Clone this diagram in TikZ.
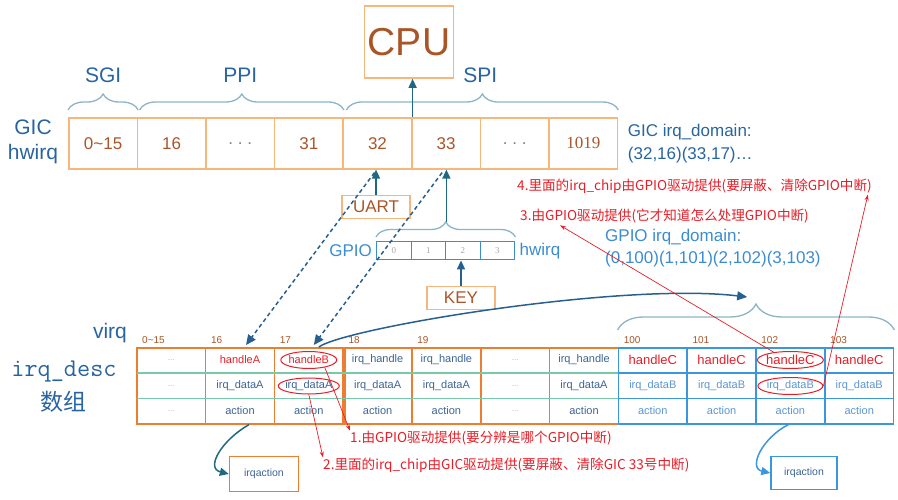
\documentclass[tikz,border=0pt]{standalone}
\usepackage{fontspec}
\setmainfont{Liberation Sans}
\newfontfamily\cjk{Noto Sans CJK SC}
\newfontfamily\numserif{Liberation Serif}
\usepackage{tikz}
\usetikzlibrary{calc}
\usetikzlibrary{positioning}
\usetikzlibrary{shapes.geometric}
\usetikzlibrary{decorations.pathreplacing}
\usetikzlibrary{arrows.meta}
\definecolor{gicorange}{RGB}{247,182,124}
\definecolor{tblorange}{RGB}{237,125,49}
\definecolor{tblblue}{RGB}{58,150,221}
\definecolor{sepgreen}{RGB}{120,200,170}
\definecolor{bracegray}{RGB}{140,180,200}
\definecolor{labelblue}{RGB}{40,100,160}
\definecolor{gpioblue}{RGB}{60,140,210}
\definecolor{numbrown}{RGB}{170,85,40}
\definecolor{arrowteal}{RGB}{30,105,130}
\definecolor{darrow}{RGB}{40,95,145}
\definecolor{cellblue}{RGB}{60,100,150}
\definecolor{lightcell}{RGB}{90,150,210}
\definecolor{annored}{RGB}{230,30,40}
\newcommand{\fsz}[1]{\fontsize{#1}{#1}\selectfont}
\newcommand{\dotsml}{{\fsz{8}\textcolor{gray!60}{...}}}
\tikzstyle{gicnode} = [draw=gicorange, line width=1.6pt, minimum width=68.6pt, minimum height=51pt, inner sep=0pt, anchor=north west, text=numbrown, font=\fsz{17}]
\tikzstyle{smallbox} = [draw=gicorange, line width=1.4pt, minimum width=68pt, minimum height=23pt, inner sep=0pt, text=numbrown, font=\fsz{17}]
\tikzstyle{gpiocell} = [draw=gpioblue, line width=1.4pt, minimum width=34.5pt, minimum height=18pt, inner sep=0pt, anchor=north west, text=gray!70, font=\numserif\fsz{9}]
\tikzstyle{gpiolabel} = [text=gpioblue, font=\fsz{17}, inner sep=1pt]
\tikzstyle{grouplabel} = [text=labelblue, font=\fsz{21}]
\tikzstyle{desccol} = [draw=tblorange, line width=1.6pt, minimum width=68.8pt, minimum height=76pt, inner sep=0pt, anchor=north west]
\tikzstyle{celltext} = [text=cellblue, font=\fsz{11}, inner sep=1pt]
\tikzstyle{virqlabel} = [text=numbrown, font=\fsz{10}, inner sep=1pt, anchor=south west]
\tikzstyle{sepline} = [draw=sepgreen, line width=1.4pt, shorten <=0.8pt, shorten >=0.8pt]
\tikzstyle{hbrace} = [draw=bracegray, line width=1.3pt, decorate, decoration={brace, amplitude=16pt}]
\tikzstyle{uparrow} = [draw=arrowteal, line width=1.5pt, -{Triangle[length=9pt, width=8pt]}]
\tikzstyle{dasharrow} = [draw=darrow, line width=1.5pt, dash pattern=on 4pt off 3pt, -{Triangle[length=10pt, width=9pt]}]
\tikzstyle{bigarrow} = [draw=darrow, line width=1.5pt, -{Triangle[length=10pt, width=9pt]}]
\tikzstyle{redarrow} = [draw=annored, line width=0.7pt, -{Stealth[length=6pt, width=4pt]}]
\tikzstyle{redring} = [draw=annored, line width=1pt, ellipse, inner sep=0pt]
\tikzstyle{annotext} = [text=annored, font=\cjk\fsz{13.6}, inner sep=0pt, anchor=west]
\tikzstyle{actbox} = [draw=tblorange, line width=1.4pt, minimum width=69pt, minimum height=35pt, text=cellblue, font=\fsz{10.5}]

\begin{document}
\begin{tikzpicture}[x=1pt, y=-1pt]
  \useasboundingbox (0,0) rectangle (898,500);

  \node[draw=gicorange, line width=1.6pt, minimum width=86pt, minimum height=72pt, text=numbrown, font=\fsz{39}] (cpu) at (409,42) {CPU};

  \foreach \lbl [count=\i from 0] in {{0\textasciitilde15},16,{\textcolor{gray}{.\ .\ .}},31,32,33,{\textcolor{gray}{.\ .\ .}},{\numserif 1019}}
    \node[gicnode] (gic\i) at (68+68.6*\i,117) {\lbl};

  \draw[hbrace] ($(gic0.north west)+(0,-7)$) -- ($(gic0.north east)+(0,-7)$);
  \draw[hbrace] ($(gic1.north west)+(3,-7)$) -- ($(gic3.north east)+(0,-7)$);
  \draw[hbrace] ($(gic4.north west)+(4,-7)$) -- ($(gic7.north east)+(0,-7)$);
  \node[grouplabel] (sgi) at ($(gic0.north)+(0,-42)$) {SGI};
  \node[grouplabel] (ppi) at ($(gic2.north)+(0,-42)$) {PPI};
  \node[grouplabel] (spi) at ($(gic4.north west)!0.5!(gic7.north east)+(0,-42)$) {SPI};
  \node[text=labelblue, font=\fontsize{21}{25}\selectfont, align=center] (gichw) at (33,142) {GIC\\hwirq};
  \node[text=labelblue, font=\fontsize{17}{23}\selectfont, align=left, anchor=west] (gicdom) at ($(gic7.east)+(6,0)$) {GIC irq\_domain:\\(32,16)(33,17)\dots};

  \draw[uparrow] (gic4.north east) -- (gic4.north east |- cpu.south);

  \node[smallbox] (uart) at (376,207) {UART};
  \draw[uparrow] (uart.north) -- (uart.north |- gic4.south);

  \foreach \n in {0,...,3}
    \node[gpiocell] (gp\n) at (376+34.5*\n,241) {\n};
  \node[gpiolabel, left=3pt of gp0] (gpio) {GPIO};
  \node[gpiolabel, right=3pt of gp3] (gphw) {hwirq};
  \draw[hbrace, decoration={brace, amplitude=15pt}] ($(gp0.north west)+(0,-4)$) -- ($(gp3.north east)+(0,-4)$);
  \coordinate (gptip) at ($(gp1.north east)+(0,-19)$);
  \draw[uparrow] (gptip) -- (gptip |- gic5.south);

  \node[smallbox] (key) at (461,298) {KEY};
  \draw[uparrow, draw=darrow] (key.north) -- (key.north |- gp2.south);

  \node[gpiolabel, font=\fontsize{17}{22}\selectfont, align=left, anchor=west] (gpiodom) at (604,248) {GPIO irq\_domain:\\(0,100)(1,101)(2,102)(3,103)};

  \node[annotext] (t4) at (517,186) {4.里面的irq\_chip由GPIO驱动提供(要屏蔽、清除GPIO中断)};
  \node[annotext] (t3) at (520,216) {3.由GPIO驱动提供(它才知道怎么处理GPIO中断)};
  \node[annotext] (t1) at (350,438) {1.由GPIO驱动提供(要分辨是哪个GPIO中断)};
  \node[annotext] (t2) at (323,465) {2.里面的irq\_chip由GIC驱动提供(要屏蔽、清除GIC 33号中断)};

  \node[text=labelblue, font=\fsz{21}] (virq) at (110,333) {virq};
  \node[text=labelblue, font=\ttfamily\fsz{25.5}] (desc) at (64,372) {irq\_desc};
  \node[text=labelblue, font=\cjk\fsz{23}] (arr) at (64,402) {数组};

  \foreach \c in {0,...,6}
    \node[desccol] (col\c) at (136+68.8*\c,347) {};
  \foreach \c in {7,...,10}
    \node[desccol, draw=tblblue] (col\c) at (136+68.8*\c,347) {};
  \draw[draw=tblorange, line width=1.6pt] ($(col3.north west)+(2.5,0)$) -- ($(col3.south west)+(2.5,0)$);
  \foreach \c in {0,...,6} {
    \draw[sepline] ($(col\c.north west)!1/3!(col\c.south west)$) -- ($(col\c.north east)!1/3!(col\c.south east)$);
    \draw[sepline] ($(col\c.north west)!2/3!(col\c.south west)$) -- ($(col\c.north east)!2/3!(col\c.south east)$);
  }
  \foreach \c in {7,...,10} {
    \draw[sepline, draw=tblblue] ($(col\c.north west)!1/3!(col\c.south west)$) -- ($(col\c.north east)!1/3!(col\c.south east)$);
    \draw[sepline, draw=tblblue] ($(col\c.north west)!2/3!(col\c.south west)$) -- ($(col\c.north east)!2/3!(col\c.south east)$);
  }

  \foreach \c/\ta/\tb/\tc in {0/\dotsml/\dotsml/\dotsml, 1/{\textcolor{annored}{handleA}}/irq\_dataA/action, 2/{\textcolor{annored}{handleB}}/irq\_dataA/action, 3/irq\_handle/irq\_dataA/action, 4/irq\_handle/irq\_dataA/action, 5/\dotsml/\dotsml/\dotsml, 6/irq\_handle/irq\_dataA/action} {
    \node[celltext] (h\c) at ($(col\c.north)+(0,13)$) {\ta};
    \node[celltext] (d\c) at ($(col\c.north)+(0,39)$) {\tb};
    \node[celltext] (a\c) at ($(col\c.north)+(0,64)$) {\tc};
  }
  \foreach \c in {7,...,10} {
    \node[celltext, text=annored, font=\fsz{13}] (h\c) at ($(col\c.north)+(0,13)$) {handleC};
    \node[celltext, text=lightcell] (d\c) at ($(col\c.north)+(0,39)$) {irq\_dataB};
    \node[celltext, text=lightcell] (a\c) at ($(col\c.north)+(0,64)$) {action};
  }
  \foreach \c/\v in {0/0\textasciitilde15, 1/16, 2/17, 3/18, 4/19, 7/100, 8/101, 9/102, 10/103}
    \node[virqlabel] (v\c) at ($(col\c.north west)+(5,-2)$) {\v};

  \draw[hbrace, decoration={brace, amplitude=26pt}] ($(col7.north west)+(0,-17)$) -- ($(col10.north east)+(0,-17)$);
  \coordinate (vtip) at ($(col9.north west)+(-8,-50)$);

  \draw[dasharrow] ($(gic4.south)+(-3,3)$) -- ($(col1.north)+(6,-2)$);
  \draw[dasharrow] ($(gic5.south)+(-4,3)$) -- ($(col2.north)+(5,-2)$);
  \draw[bigarrow] ($(col2.north)+(10,0)$) .. controls (345,328) and (620,282) .. (vtip);

  \node[redring, minimum width=56pt, minimum height=17pt] (ringB) at (h2) {};
  \node[redring, minimum width=61pt, minimum height=16pt] (ringDA) at (d2) {};
  \node[redring, minimum width=66pt, minimum height=17pt] (ringC) at (h9) {};
  \node[redring, minimum width=65pt, minimum height=17pt] (ringDB) at (d9) {};
  \draw[redarrow] (ringB.-25) -- (t1.north west);
  \draw[redarrow] (ringDA.south) -- (t2.north west);
  \draw[redarrow] (ringC.155) -- ($(t3.south west)+(40,2)$);
  \draw[redarrow] (ringDB.east) -- ($(t4.south east)+(-4,1)$);

  \node[actbox] (act1) at (264,474) {irqaction};
  \node[actbox, draw=tblblue, minimum width=66pt, minimum height=33pt] (act2) at (804,473) {irqaction};
  \draw[uparrow] ($(col1.south)+(9,0)$) .. controls (222,440) and (205,468) .. (act1.west);
  \draw[uparrow, draw=tblblue] ($(col9.south)+(-2,0)$) .. controls (762,438) and (748,468) .. (act2.west);
\end{tikzpicture}
\end{document}
